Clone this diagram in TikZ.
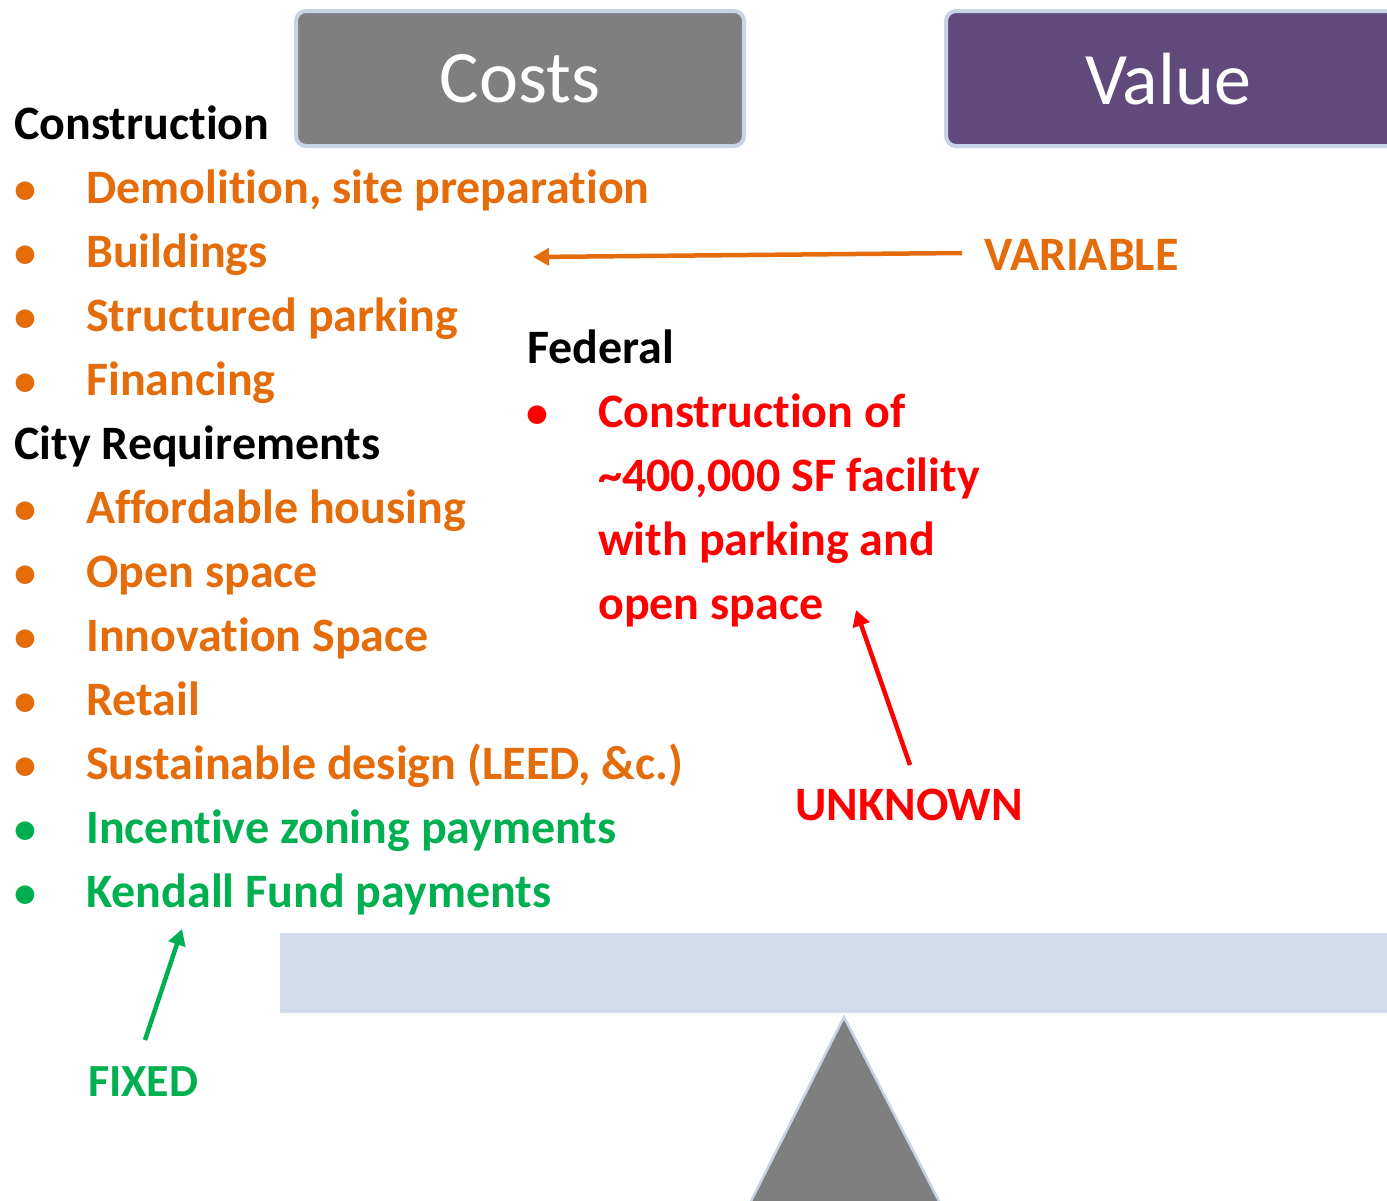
\documentclass[tikz,border=0pt]{standalone}
\usepackage{fontspec}
\setmainfont{Carlito}[Ligatures={NoCommon,TeX}]
\usetikzlibrary{arrows.meta}
\definecolor{orng}{HTML}{E46C0A}
\definecolor{grn}{HTML}{00B050}
\definecolor{rd}{HTML}{FF0000}
\definecolor{boxgray}{HTML}{7F7F7F}
\definecolor{purp}{HTML}{604A7B}
\definecolor{edgeblue}{HTML}{C9D3E6}
\definecolor{beam}{HTML}{D3DAE8}
\tikzset{
  txt/.style={anchor=base west, inner sep=0pt, font=\fontsize{48}{52}\selectfont\bfseries},
  head/.style={txt, text=black},
  org/.style={txt, text=orng},
  gr/.style={txt, text=grn},
  rdt/.style={txt, text=rd},
  bul/.style={anchor=base west, inner sep=0pt, font=\fontsize{44}{50}\selectfont\bfseries},
  titlebox/.style={draw=edgeblue, line width=4pt, rounded corners=10pt},
  arr/.style={line width=4.5pt, -{Triangle[length=16pt,width=17pt]}},
}
\begin{document}
\begin{tikzpicture}[x=1pt,y=-1pt]
\useasboundingbox (0,0) rectangle (1387,1200);
% title boxes
\draw[titlebox, fill=boxgray] (296,11) rectangle (744,146);
\node[text=white, font=\fontsize{74}{80}\selectfont] (costs) at (520,79) {Costs};
\draw[titlebox, fill=purp] (946,11) rectangle (1400,146);
\node[text=white, font=\fontsize{74}{80}\selectfont] (value) at (1168,79) {Value};
% left list
\node[head] (constr) at (14,139) {Construction};
\foreach \y/\t [count=\i] in {203/{Demolition, site preparation},267/{Buildings},331/{Structured parking},395/{Financing}}{
  \node[bul, text=orng] (cb\i) at (14,\y) {•};
  \node[org] (c\i) at (86,\y) {\t};
}
\node[head] (city) at (14,459) {City Requirements};
\foreach \y/\t [count=\i] in {523/{Affordable housing},587/{Open space},651/{Innovation Space},715/{Retail},779/{Sustainable design (LEED, \&c.)}}{
  \node[bul, text=orng] (rb\i) at (14,\y) {•};
  \node[org] (r\i) at (86,\y) {\t};
}
\node[bul, text=grn] (gb1) at (14,843) {•};
\node[gr] (g1) at (86,843) {Incentive zoning payments};
\node[bul, text=grn] (gb2) at (14,907) {•};
\node[gr] (g2) at (86,907) {Kendall Fund payments};
% federal
\node[head] (fed) at (527,363) {Federal};
\node[bul, text=rd] (fb) at (526,427) {•};
\node[rdt] (f1) at (598,427) {Construction of};
\node[rdt] (f2) at (598,491) {{\char"7E}400,000 SF facility};
\node[rdt] (f3) at (598,555) {with parking and};
\node[rdt] (f4) at (598,619) {open space};
% labels
\node[txt, text=orng] (variable) at (984,270) {VARIABLE};
\node[txt, text=rd] (unknown) at (795,820) {UNKNOWN};
\node[txt, text=grn, font=\fontsize{46}{50}\selectfont\bfseries] (fixed) at (88,1096) {FIXED};
% arrows
\coordinate (va) at (533,257);
\coordinate (vs) at (962,253);
\draw[arr, draw=orng, fill=orng] (vs) -- (va);
\coordinate (us) at (910,765);
\coordinate (ua) at (856,610);
\draw[arr, draw=rd, fill=rd] (us) -- (ua);
\coordinate (fs) at (145,1040);
\coordinate (fa) at (182,929);
\draw[arr, draw=grn, fill=grn] (fs) -- (fa);
% seesaw
\fill[beam] (280,933) rectangle (1400,1013);
\draw[fill=boxgray, draw=edgeblue, line width=2.5pt] (844,1017) -- (940,1203) -- (750,1203) -- cycle;
\end{tikzpicture}
\end{document}
